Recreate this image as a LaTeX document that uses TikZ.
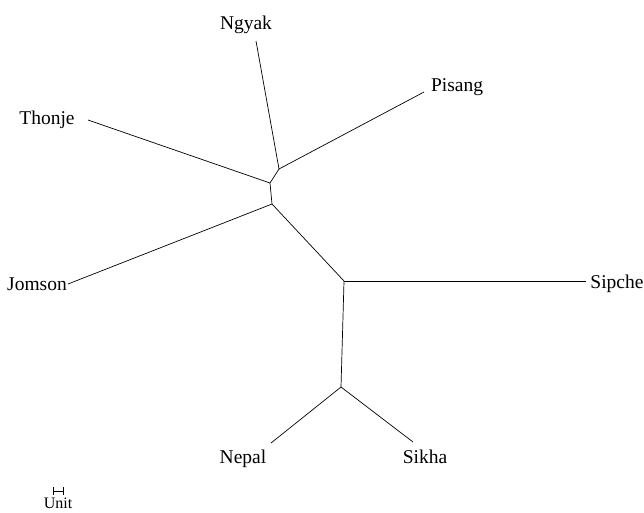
\documentclass[tikz,border=0pt]{standalone}
\usepackage{fontspec}
\setmainfont{Liberation Serif}
\usepackage{tikz}

\begin{document}
\begin{tikzpicture}[x=1pt,y=-1pt,line width=0.7pt,
    taxon/.style={font=\fontsize{19.5}{22}\selectfont,inner sep=0pt,anchor=base}]
  \useasboundingbox (0,0) rectangle (644,512);
  % inner vertices
  \coordinate (a) at (279,169);
  \coordinate (b) at (270,183);
  \coordinate (c) at (272,204);
  \coordinate (d) at (344,281);
  \coordinate (e) at (341,387);
  % branch tips
  \coordinate (ngyak) at (256,41);
  \coordinate (pisang) at (424,92);
  \coordinate (thonje) at (88,120);
  \coordinate (jomson) at (68,284);
  \coordinate (sipche) at (586,281);
  \coordinate (nepal) at (271,443);
  \coordinate (sikha) at (413,442);
  \draw (a) -- (ngyak);
  \draw (a) -- (pisang);
  \draw (a) -- (b) -- (c) -- (d) -- (e);
  \draw (b) -- (thonje);
  \draw (c) -- (jomson);
  \draw (d) -- (sipche);
  \draw (e) -- (nepal);
  \draw (e) -- (sikha);
  % labels
  \node[taxon] (lngyak) at (246,29) {Ngyak};
  \node[taxon] (lpisang) at (457,91) {Pisang};
  \node[taxon] (lthonje) at (47,124) {Thonje};
  \node[taxon] (ljomson) at (37,290) {Jomson};
  \node[taxon] (lsipche) at (617,288) {Sipche};
  \node[taxon] (lnepal) at (243,463) {Nepal};
  \node[taxon] (lsikha) at (425,463) {Sikha};
  % scale bar
  \coordinate (u1) at (53,491);
  \coordinate (u2) at (63,491);
  \draw[line width=0.6pt] (u1) -- (u2);
  \draw[line width=0.6pt] ([yshift=-4]u1) -- ([yshift=4]u1);
  \draw[line width=0.6pt] ([yshift=-4]u2) -- ([yshift=4]u2);
  \node[font=\fontsize{16}{18}\selectfont,inner sep=0pt,anchor=base] (unit) at (58,508) {Unit};
\end{tikzpicture}
\end{document}
